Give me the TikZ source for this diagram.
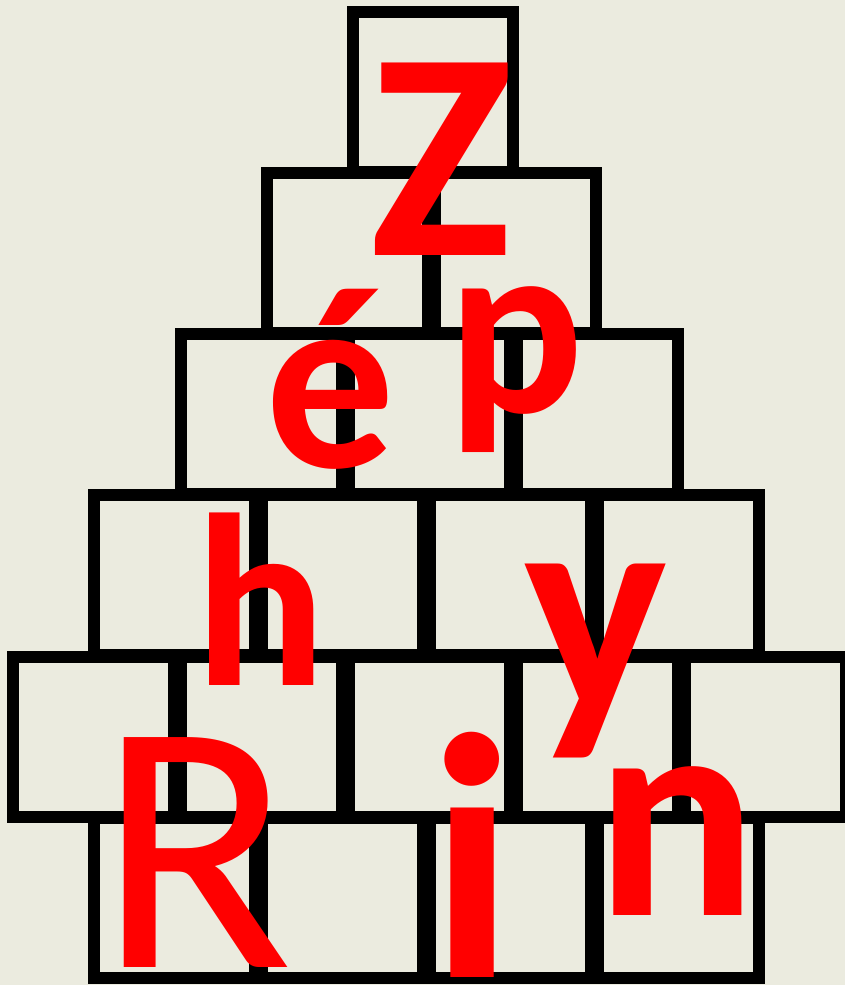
\documentclass[tikz,border=0pt]{standalone}
\usepackage{fontspec}
\setmainfont{Carlito}
\usepackage{tikz}
\usetikzlibrary{positioning}
\definecolor{paper}{HTML}{EBEBDF}
\definecolor{inkred}{HTML}{FF0000}

\begin{document}
\begin{tikzpicture}[
    x=0.02cm, y=-0.02cm,
    brick/.style={
        draw=black,
        fill=paper,
        rectangle,
        minimum width=3.22cm,
        minimum height=3.22cm,
        inner sep=0pt,
        outer sep=0pt,
        line width=0.24cm
    },
    letter/.style={
        text=inkred,
        inner sep=0pt,
        anchor=base
    }
]

\fill[paper] (0,0) rectangle (845,985);
\useasboundingbox (0,0) rectangle (845,985);

% row 1
\node[brick] (r1a) at (433,92) {};

% row 2
\node[brick] (r2a) at (347.5,253) {};
\node[brick, right=0.14cm of r2a] (r2b) {};

% row 3
\node[brick] (r3a) at (261.5,414) {};
\node[brick, right=0.14cm of r3a] (r3b) {};
\node[brick, right=0.14cm of r3b] (r3c) {};

% row 4
\node[brick] (r4a) at (174.5,575) {};
\node[brick, right=0.14cm of r4a] (r4b) {};
\node[brick, right=0.14cm of r4b] (r4c) {};
\node[brick, right=0.14cm of r4c] (r4d) {};

% row 5
\node[brick] (r5a) at (93.5,737) {};
\node[brick, right=0.14cm of r5a] (r5b) {};
\node[brick, right=0.14cm of r5b] (r5c) {};
\node[brick, right=0.14cm of r5c] (r5d) {};
\node[brick, right=0.14cm of r5d] (r5e) {};

% row 6
\node[brick] (r6a) at (174.5,898) {};
\node[brick, right=0.14cm of r6a] (r6b) {};
\node[brick, right=0.14cm of r6b] (r6c) {};
\node[brick, right=0.14cm of r6c] (r6d) {};

% letters
\node[letter, font=\fontsize{169}{169}\bfseries] (lz) at (441,255) {Z};
\node[letter, font=\fontsize{147}{147}\bfseries] (le) at (331,467) {é};
\node[letter, font=\fontsize{145}{145}\bfseries] (lp) at (516,412) {p};
\node[letter, font=\fontsize{140}{140}\bfseries] (lh) at (260,685) {h};
\node[letter, font=\fontsize{172}{172}\bfseries] (ly) at (596,710) {y};
\node[letter, font=\fontsize{204}{204}\selectfont] (lr) at (196,967) {R};
\node[letter, font=\fontsize{199}{199}\bfseries] (li) at (472,977) {i};
\node[letter, font=\fontsize{172}{172}\bfseries] (ln) at (677,915) {n};

\end{tikzpicture}
\end{document}
